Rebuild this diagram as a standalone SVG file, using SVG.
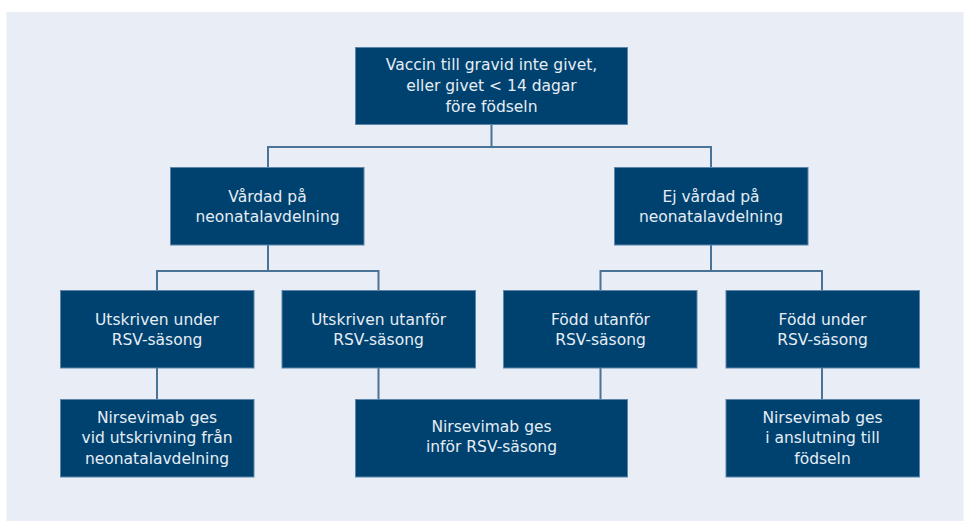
<svg xmlns="http://www.w3.org/2000/svg" width="964" height="521" viewBox="0 0 964 521">
<style>
.bg{fill:#ffffff}
.panel{fill:#e9edf5}
.box{fill:#00426f;stroke:#5d86aa;stroke-width:1}
.lbl{fill:#e6edf5;font-family:"DejaVu Sans","Liberation Sans",sans-serif;font-size:15.5px;text-anchor:middle}
.conn{fill:none;stroke:#4a7396;stroke-width:2}
</style>
<rect class="bg" x="0" y="0" width="964" height="521"/>
<rect class="panel" x="6.5" y="12" width="957" height="509"/>
<g id="connectors">
<path class="conn" d="M491.5 125 V147 M268 147 H711 M268 146 V168 M711 146 V168"/>
<path class="conn" d="M268 245 V271 M157 271 H378.5 M157 270 V291 M378.5 270 V291"/>
<path class="conn" d="M711 245 V271 M600.5 271 H822 M600.5 270 V291 M822 270 V291"/>
<path class="conn" d="M157 368 V400 M378.5 368 V400 M600.5 368 V400 M822 368 V400"/>
</g>
<g id="top">
<rect class="box" x="355.5" y="47.5" width="272" height="77"/>
<text class="lbl" x="491.5" y="70">Vaccin till gravid inte givet,</text>
<text class="lbl" x="491.5" y="91">eller givet &lt; 14 dagar</text>
<text class="lbl" x="491.5" y="111.5">före födseln</text>
</g>
<g id="vardad">
<rect class="box" x="170.5" y="167.5" width="193.5" height="77.5"/>
<text class="lbl" x="267.5" y="201.5">Vårdad på</text>
<text class="lbl" x="267.5" y="221.5">neonatalavdelning</text>
</g>
<g id="ej-vardad">
<rect class="box" x="614.5" y="167.5" width="193.5" height="77.5"/>
<text class="lbl" x="711" y="201.5">Ej vårdad på</text>
<text class="lbl" x="711" y="221.5">neonatalavdelning</text>
</g>
<g id="utskriven-under">
<rect class="box" x="60.5" y="290.5" width="193.5" height="77.5"/>
<text class="lbl" x="157" y="324.5">Utskriven under</text>
<text class="lbl" x="157" y="345">RSV-säsong</text>
</g>
<g id="utskriven-utanfor">
<rect class="box" x="282" y="290.5" width="193.5" height="77.5"/>
<text class="lbl" x="378.5" y="324.5">Utskriven utanför</text>
<text class="lbl" x="378.5" y="345">RSV-säsong</text>
</g>
<g id="fodd-utanfor">
<rect class="box" x="503.5" y="290.5" width="193.5" height="77.5"/>
<text class="lbl" x="600.5" y="324.5">Född utanför</text>
<text class="lbl" x="600.5" y="345">RSV-säsong</text>
</g>
<g id="fodd-under">
<rect class="box" x="726" y="290.5" width="193.5" height="77.5"/>
<text class="lbl" x="822.5" y="324.5">Född under</text>
<text class="lbl" x="822.5" y="345">RSV-säsong</text>
</g>
<g id="ges-utskrivning">
<rect class="box" x="60.5" y="399.5" width="193.5" height="77.5"/>
<text class="lbl" x="157" y="422.5">Nirsevimab ges</text>
<text class="lbl" x="157" y="443">vid utskrivning från</text>
<text class="lbl" x="157" y="463.5">neonatalavdelning</text>
</g>
<g id="ges-infor">
<rect class="box" x="355.5" y="399.5" width="272" height="77.5"/>
<text class="lbl" x="491.5" y="431.5">Nirsevimab ges</text>
<text class="lbl" x="491.5" y="452">inför RSV-säsong</text>
</g>
<g id="ges-fodseln">
<rect class="box" x="726" y="399.5" width="193.5" height="77.5"/>
<text class="lbl" x="822.5" y="422.5">Nirsevimab ges</text>
<text class="lbl" x="822.5" y="443">i anslutning till</text>
<text class="lbl" x="822.5" y="463.5">födseln</text>
</g>
</svg>
